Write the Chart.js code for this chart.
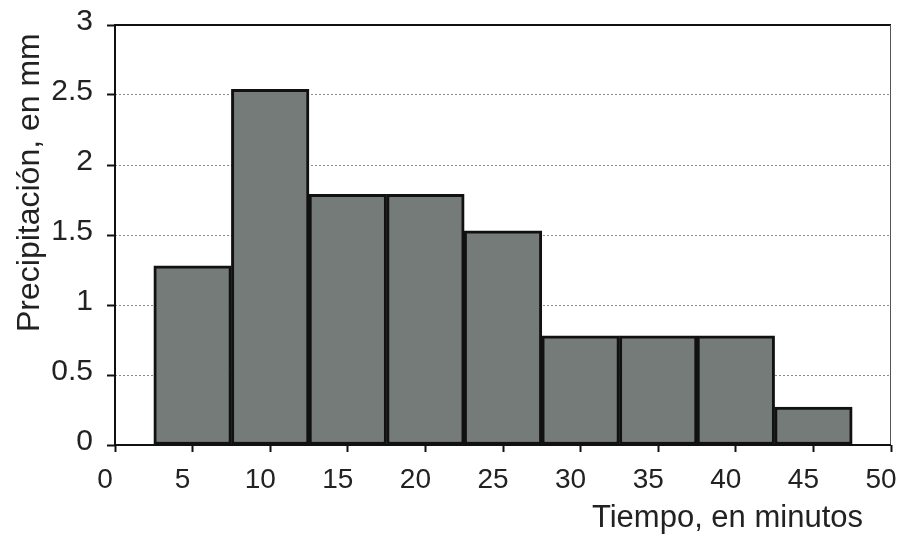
<!DOCTYPE html>
<html>
<head>
<meta charset="utf-8">
<script src="https://cdn.jsdelivr.net/npm/chart.js@4.4.1/dist/chart.umd.min.js"></script>
<style>
  html, body { margin: 0; padding: 0; background: #ffffff; }
  #wrap { width: 898px; height: 537px; }
</style>
</head>
<body>
<div id="wrap"><canvas id="c" width="898" height="537"></canvas></div>
<script>
const categories = [5, 10, 15, 20, 25, 30, 35, 40, 45];
const precipitacion = [1.28, 2.54, 1.79, 1.79, 1.53, 0.78, 0.78, 0.78, 0.27];
const xTickValues = [0, 5, 10, 15, 20, 25, 30, 35, 40, 45, 50];
const yTickValues = [0, 0.5, 1, 1.5, 2, 2.5, 3];
const xTitle = 'Tiempo, en minutos';
const yTitle = 'Precipitación, en mm';

const FONT = '"Liberation Sans", Arial, sans-serif';
const TEXT = '#222222';

const framePlugin = {
  id: 'frameAndTitles',
  afterDraw(chart) {
    const { ctx, chartArea: a } = chart;
    ctx.save();
    ctx.strokeStyle = '#111111';
    ctx.lineWidth = 2;
    ctx.beginPath();
    ctx.moveTo(a.left, a.bottom);
    ctx.lineTo(a.left, a.top);
    ctx.lineTo(a.right, a.top);
    ctx.stroke();
    ctx.lineWidth = 1;
    ctx.strokeStyle = '#555555';
    ctx.beginPath();
    ctx.moveTo(a.right - 0.5, a.top);
    ctx.lineTo(a.right - 0.5, a.bottom);
    ctx.stroke();
    ctx.lineWidth = 2;
    ctx.strokeStyle = '#111111';
    ctx.beginPath();
    ctx.moveTo(a.left, a.bottom);
    ctx.lineTo(a.right, a.bottom);
    ctx.stroke();
    ctx.fillStyle = TEXT;
    ctx.font = '31px ' + FONT;
    ctx.textAlign = 'right';
    ctx.textBaseline = 'alphabetic';
    ctx.fillText(xTitle, a.right - 28, 527);
    ctx.translate(39, a.bottom - 113);
    ctx.rotate(-Math.PI / 2);
    ctx.font = '32px ' + FONT;
    ctx.textAlign = 'left';
    ctx.fillText(yTitle, 0, 0);
    ctx.restore();
  }
};

new Chart(document.getElementById('c'), {
  type: 'bar',
  data: {
    datasets: [{
      data: categories.map((x, i) => ({ x: x, y: precipitacion[i] })),
      backgroundColor: '#747b78',
      borderColor: '#111111',
      borderWidth: 3,
      borderSkipped: false,
      barPercentage: 1,
      categoryPercentage: 1
    }]
  },
  options: {
    responsive: false,
    animation: false,
    devicePixelRatio: 1,
    layout: { padding: { top: 25, right: 7, left: 0, bottom: 0 } },
    plugins: { legend: { display: false }, tooltip: { enabled: false } },
    scales: {
      x: {
        type: 'linear',
        min: 0,
        max: 50,
        offset: false,
        afterBuildTicks(scale) { scale.ticks = xTickValues.map(v => ({ value: v })); },
        afterFit(scale) { scale.height = 92; scale.paddingLeft = 0; scale.paddingRight = 0; },
        ticks: { font: { family: FONT, size: 28 }, color: TEXT, padding: 11, maxRotation: 0, autoSkip: false,
                 labelOffset: -10, callback: (v) => String(v) },
        grid: { offset: false, drawOnChartArea: false, drawTicks: true, tickLength: 7, tickColor: '#111111', tickWidth: 2 },
        border: { display: false }
      },
      y: {
        min: 0,
        max: 3,
        afterBuildTicks(scale) { scale.ticks = yTickValues.map(v => ({ value: v })); },
        afterFit(scale) { scale.width = 115; scale.paddingTop = 0; scale.paddingBottom = 0; },
        ticks: { font: { family: FONT, size: 30 }, color: TEXT, padding: 14, labelOffset: -3, autoSkip: false,
                 callback: (v) => String(v) },
        grid: {
          color: (c) => (c.tick && (c.tick.value === 0 || c.tick.value === 3)) ? 'rgba(0,0,0,0)' : '#8c8c8c',
          lineWidth: 1,
          tickLength: 8,
          tickColor: '#111111',
          tickWidth: 2,
          tickBorderDash: []
        },
        border: { display: false, dash: [2, 2] }
      }
    }
  },
  plugins: [framePlugin]
});
</script>
</body>
</html>
